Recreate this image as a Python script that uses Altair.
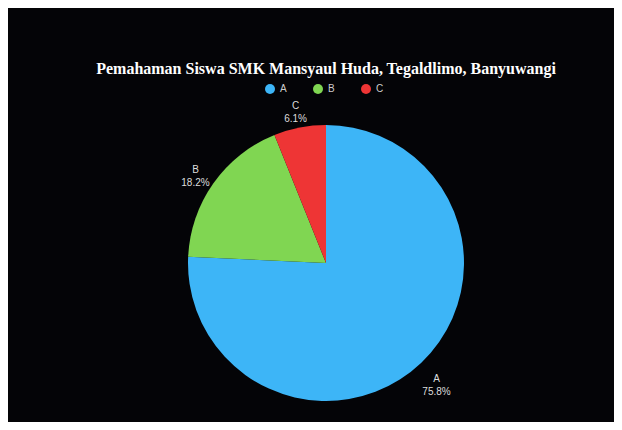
import altair as alt
import pandas as pd

categories = ["A", "B", "C"]
percents = [75.8, 18.2, 6.1]
colors = ["#3DB5F7", "#80D652", "#EE3535"]

df = pd.DataFrame({
    "cat": categories,
    "pct": percents,
    "order": list(range(len(categories))),
})
df["label"] = [f"{c}\n{p}%" for c, p in zip(categories, percents)]

base = alt.Chart(df).encode(
    theta=alt.Theta("pct:Q", stack=True),
    order=alt.Order("order:Q"),
)

arcs = base.mark_arc(outerRadius=138).encode(
    color=alt.Color(
        "cat:N",
        scale=alt.Scale(domain=categories, range=colors),
        legend=alt.Legend(
            title=None,
            orient="none",
            legendX=227,
            legendY=-25,
            direction="horizontal",
            symbolType="circle",
            symbolSize=100,
            symbolStrokeWidth=0,
            labelColor="#cccccc",
            labelFontSize=10,
            labelFont="Liberation Sans",
            columnPadding=26,
            labelOffset=5,
        ),
    )
)

labels = base.mark_text(
    radius=160,
    lineBreak="\n",
    fontSize=10,
    font="Liberation Sans",
    color="#dddddd",
    align="center",
    baseline="middle",
    lineHeight=13,
).encode(text="label:N")

chart = (
    alt.layer(arcs, labels)
    .properties(
        width=576,
        height=308,
        padding={"left": 30, "top": 101, "right": 0, "bottom": 5},
        autosize=alt.AutoSizeParams(type="none"),
        background="#040407",
        title=alt.TitleParams(
            "Pemahaman Siswa SMK Mansyaul Huda, Tegaldlimo, Banyuwangi",
            font="Liberation Serif",
            fontSize=16,
            fontWeight="bold",
            color="#ffffff",
            anchor="middle",
            offset=7,
        ),
    )
    .configure_view(stroke=None)
)

chart.save("out.html", embed_options={"renderer": "svg", "actions": False})
